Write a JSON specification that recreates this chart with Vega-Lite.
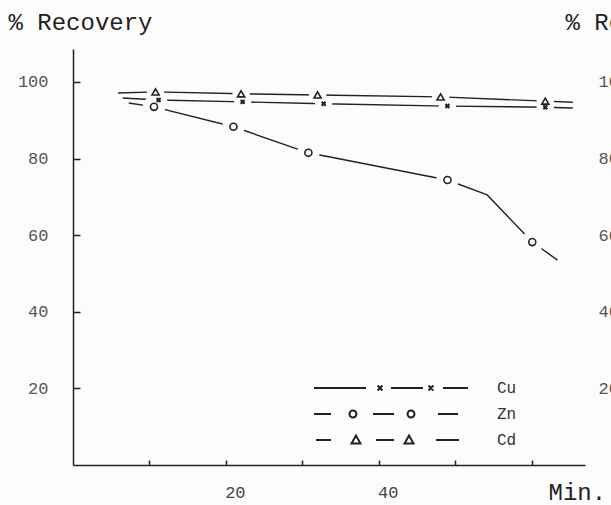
{
  "$schema": "https://vega.github.io/schema/vega-lite/v6.json",
  "width": 512,
  "height": 416,
  "autosize": {"type": "none"},
  "padding": {"left": 73, "top": 49, "right": 26, "bottom": 40},
  "background": "#fcfcfc",
  "config": {"view": {"stroke": null}, "font": "Liberation Mono"},
  "data": {
    "values": [
      {"metal": "Cd", "min": 5.9, "val": 97.1, "marker": false},
      {"metal": "Cd", "min": 10.8, "val": 97.4, "marker": true},
      {"metal": "Cd", "min": 22.0, "val": 96.9, "marker": true},
      {"metal": "Cd", "min": 32.0, "val": 96.6, "marker": true},
      {"metal": "Cd", "min": 48.1, "val": 96.1, "marker": true},
      {"metal": "Cd", "min": 61.8, "val": 95.0, "marker": true},
      {"metal": "Cd", "min": 65.4, "val": 94.7, "marker": false},
      {"metal": "Cu", "min": 6.5, "val": 95.8, "marker": false},
      {"metal": "Cu", "min": 11.2, "val": 95.3, "marker": true},
      {"metal": "Cu", "min": 22.2, "val": 94.8, "marker": true},
      {"metal": "Cu", "min": 32.8, "val": 94.3, "marker": true},
      {"metal": "Cu", "min": 49.0, "val": 93.7, "marker": true},
      {"metal": "Cu", "min": 61.8, "val": 93.4, "marker": true},
      {"metal": "Cu", "min": 65.4, "val": 93.2, "marker": false},
      {"metal": "Zn", "min": 7.3, "val": 94.5, "marker": false},
      {"metal": "Zn", "min": 10.6, "val": 93.5, "marker": true},
      {"metal": "Zn", "min": 21.0, "val": 88.3, "marker": true},
      {"metal": "Zn", "min": 30.8, "val": 81.5, "marker": true},
      {"metal": "Zn", "min": 49.0, "val": 74.4, "marker": true},
      {"metal": "Zn", "min": 54.2, "val": 70.5, "marker": false},
      {"metal": "Zn", "min": 60.1, "val": 58.2, "marker": true},
      {"metal": "Zn", "min": 63.4, "val": 53.5, "marker": false}
    ]
  },
  "resolve": {"axis": {"y": "independent"}},
  "encoding": {
    "x": {
      "field": "min",
      "type": "quantitative",
      "scale": {"domain": [0, 67], "nice": false, "zero": false},
      "axis": {
        "values": [10, 20, 30, 40, 50, 60],
        "labelExpr": "datum.value == 20 || datum.value == 40 ? datum.label : ''",
        "grid": false,
        "tickSize": -5,
        "tickWidth": 1.5,
        "tickColor": "#222",
        "domainColor": "#222",
        "domainWidth": 1.5,
        "labelPadding": 24,
        "labelOffset": 9,
        "labelFontSize": 17,
        "labelColor": "#444",
        "labelFont": "Liberation Mono",
        "title": "Min.",
        "titleX": 475,
        "titleY": 27,
        "titleAlign": "left",
        "titleBaseline": "middle",
        "titleFont": "Liberation Mono",
        "titleFontSize": 24,
        "titleFontWeight": "normal",
        "titleColor": "#222"
      }
    },
    "y": {
      "field": "val",
      "type": "quantitative",
      "scale": {"domain": [0, 108.6], "nice": false},
      "axis": null
    }
  },
  "layer": [
    {
      "mark": {"type": "line", "color": "#222", "strokeWidth": 1.4},
      "encoding": {
        "detail": {"field": "metal", "type": "nominal"},
        "y": {
          "field": "val",
          "type": "quantitative",
          "scale": {"domain": [0, 108.6], "nice": false},
          "axis": {
            "values": [20, 40, 60, 80, 100],
            "grid": false,
            "tickSize": -7,
            "tickWidth": 1.5,
            "tickColor": "#222",
            "domainColor": "#222",
            "domainWidth": 1.5,
            "labelPadding": 32,
            "labelFontSize": 17,
            "labelColor": "#555",
            "labelFont": "Liberation Mono",
            "title": "% Recovery",
            "titleAngle": 0,
            "titleAlign": "left",
            "titleBaseline": "middle",
            "titleX": -65,
            "titleY": -27,
            "titleFont": "Liberation Mono",
            "titleFontSize": 24,
            "titleFontWeight": "normal",
            "titleColor": "#222"
          }
        }
      }
    },
    {
      "transform": [{"filter": "datum.marker && datum.metal == 'Zn'"}],
      "mark": {"type": "point", "shape": "circle", "filled": true, "fill": "#fcfcfc", "strokeWidth": 0, "size": 500, "opacity": 1}
    },
    {
      "transform": [{"filter": "datum.marker && datum.metal != 'Zn'"}],
      "mark": {"type": "point", "shape": "circle", "filled": true, "fill": "#fcfcfc", "strokeWidth": 0, "size": 300, "opacity": 1}
    },
    {
      "transform": [{"filter": "datum.marker && datum.metal == 'Zn'"}],
      "mark": {"type": "point", "shape": "circle", "filled": false, "color": "#222", "strokeWidth": 1.6, "size": 50, "opacity": 1}
    },
    {
      "transform": [{"filter": "datum.marker && datum.metal == 'Cd'"}],
      "mark": {"type": "point", "shape": "triangle-up", "filled": false, "color": "#222", "strokeWidth": 1.6, "size": 50, "opacity": 1}
    },
    {
      "transform": [{"filter": "datum.marker && datum.metal == 'Cu'"}],
      "mark": {"type": "point", "shape": "cross", "angle": 45, "filled": true, "color": "#222", "size": 30, "opacity": 1}
    },
    {
      "mark": {"type": "point", "opacity": 0, "size": 1},
      "encoding": {
        "y": {
          "field": "val",
          "type": "quantitative",
          "scale": {"domain": [0, 108.6], "nice": false},
          "axis": {
            "orient": "right",
            "values": [20, 40, 60, 80, 100],
            "grid": false,
            "ticks": false,
            "domain": false,
            "labelAlign": "left",
            "labelPadding": 13,
            "labelFontSize": 17,
            "labelColor": "#555",
            "labelFont": "Liberation Mono",
            "title": "% Recovery",
            "titleAngle": 0,
            "titleAlign": "left",
            "titleBaseline": "middle",
            "titleX": -20,
            "titleY": -27,
            "titleFont": "Liberation Mono",
            "titleFontSize": 24,
            "titleFontWeight": "normal",
            "titleColor": "#222"
          }
        },
        "shape": {
          "field": "metal",
          "type": "nominal",
          "scale": {
            "domain": ["Cu", "Zn", "Cd"],
            "range": [
              "M-1,0H-0.325M-0.175,-0.032L-0.111,0.032M-0.175,0.032L-0.111,-0.032M0,0H0.416M0.487,-0.032L0.551,0.032M0.487,0.032L0.551,-0.032M0.675,0H1",
              "M-1,0H-0.779M-0.539,0A0.045,0.045 0 1,0 -0.449,0A0.045,0.045 0 1,0 -0.539,0M-0.234,0H0.039M0.215,0A0.045,0.045 0 1,0 0.305,0A0.045,0.045 0 1,0 0.215,0M0.61,0H0.87",
              "M-0.974,0H-0.779M-0.513,0.045L-0.397,0.045L-0.455,-0.058ZM-0.195,0H0.039M0.176,0.045L0.292,0.045L0.234,-0.058ZM0.584,0H0.883"
            ]
          },
          "legend": {
            "orient": "none",
            "legendX": 240,
            "legendY": 326,
            "title": null,
            "padding": 0,
            "rowPadding": 0,
            "clipHeight": 26,
            "symbolSize": 23716,
            "symbolOffset": 0,
            "symbolStrokeColor": "#222",
            "symbolFillColor": "transparent",
            "symbolStrokeWidth": 2,
            "symbolOpacity": 1,
            "labelOffset": 28,
            "labelFont": "Liberation Mono",
            "labelFontSize": 16,
            "labelColor": "#333"
          }
        }
      }
    }
  ]
}
